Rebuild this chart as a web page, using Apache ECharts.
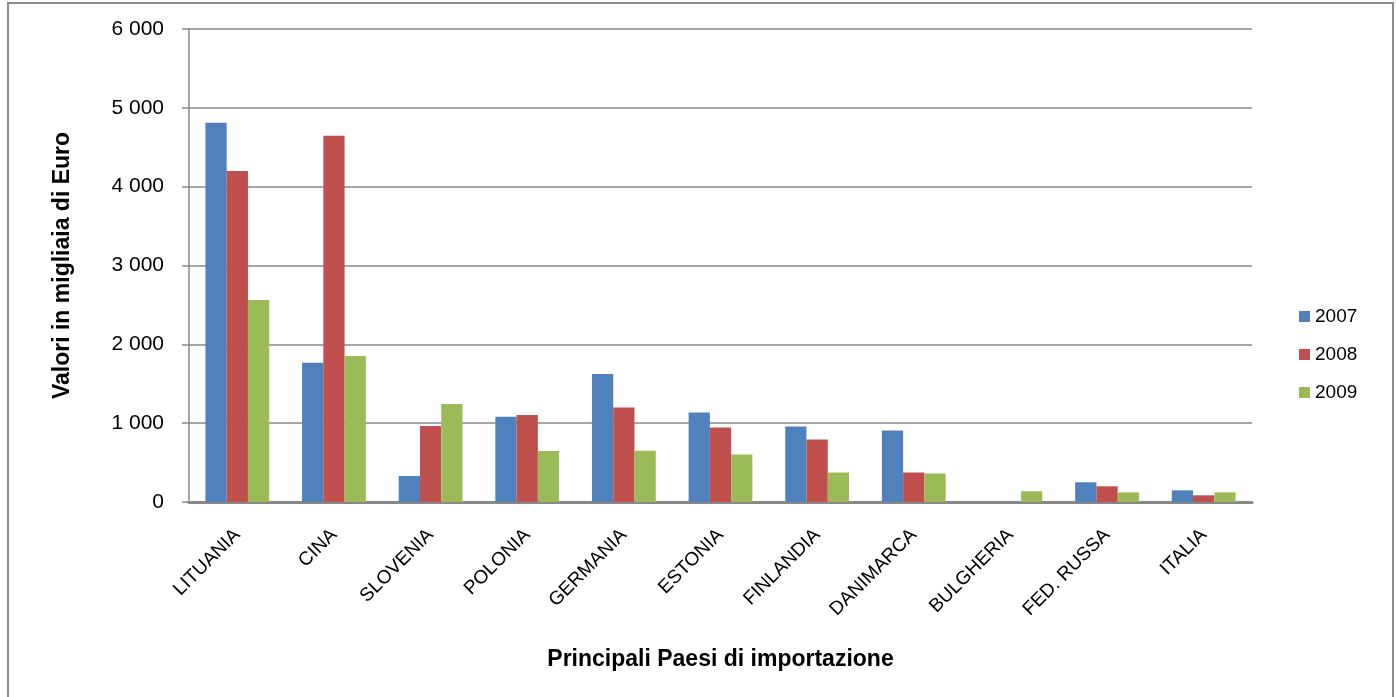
<!DOCTYPE html>
<html>
<head>
<meta charset="utf-8">
<script src="https://cdn.jsdelivr.net/npm/echarts@6/dist/echarts.min.js"></script>
<style>html,body{margin:0;padding:0;background:#fff;}#c{width:1396px;height:697px;}</style>
</head>
<body>
<div id="c"></div>
<script>
const categories = ['LITUANIA','CINA','SLOVENIA','POLONIA','GERMANIA','ESTONIA','FINLANDIA','DANIMARCA','BULGHERIA','FED. RUSSA','ITALIA'];
const years = ['2007','2008','2009'];
const v2007 = [4810,1765,330,1080,1625,1135,958,907,0,250,148];
const v2008 = [4200,4645,965,1105,1200,945,793,374,0,199,85];
const v2009 = [2563,1853,1244,647,651,603,374,362,136,122,122];
const colors = ['#4F81BD','#C0504D','#9BBB59'];

const chart = echarts.init(document.getElementById('c'), null, {renderer:'canvas'});
const font = 'Liberation Sans, Arial, sans-serif';
chart.setOption({
  animation:false,
  graphic:[{type:'rect',shape:{x:8,y:3,width:1385,height:710},style:{fill:'none',stroke:'#8c8c8c',lineWidth:2},silent:true}],
  grid:{left:189,right:144,top:29,bottom:195},
  legend:{orient:'vertical',left:1294,top:302,itemWidth:11,itemHeight:11,itemGap:19,icon:'rect',
    textStyle:{fontFamily:font,fontSize:19,color:'#000'},data:years},
  xAxis:{type:'category',data:categories,
    axisLine:{lineStyle:{color:'#888',width:3}},
    axisTick:{show:false},
    axisLabel:{rotate:45,interval:0,margin:30,fontFamily:font,fontSize:19,color:'#000'},
    name:'Principali Paesi di importazione',nameLocation:'middle',nameGap:146,
    nameTextStyle:{fontFamily:font,fontSize:23,fontWeight:'bold',color:'#000'}},
  yAxis:{type:'value',min:0,max:6000,interval:1000,
    axisLine:{show:true,lineStyle:{color:'#888',width:1.5}},
    axisTick:{show:true,length:7,lineStyle:{color:'#888',width:1.5}},
    splitLine:{lineStyle:{color:'#888',width:1.5}},
    axisLabel:{margin:25,fontFamily:font,fontSize:21,color:'#000',
      formatter:v=>String(v).replace(/\B(?=(\d{3})+(?!\d))/g,' ')},
    name:'Valori in migliaia di Euro',nameLocation:'middle',nameGap:115,
    nameTextStyle:{fontFamily:font,fontSize:23,fontWeight:'bold',color:'#000'}},
  series:[
    {name:years[0],type:'bar',data:v2007,itemStyle:{color:colors[0]},barGap:'0%',barCategoryGap:'34%'},
    {name:years[1],type:'bar',data:v2008,itemStyle:{color:colors[1]},barGap:'0%',barCategoryGap:'34%'},
    {name:years[2],type:'bar',data:v2009,itemStyle:{color:colors[2]},barGap:'0%',barCategoryGap:'34%'}
  ]
});
</script>
</body>
</html>
